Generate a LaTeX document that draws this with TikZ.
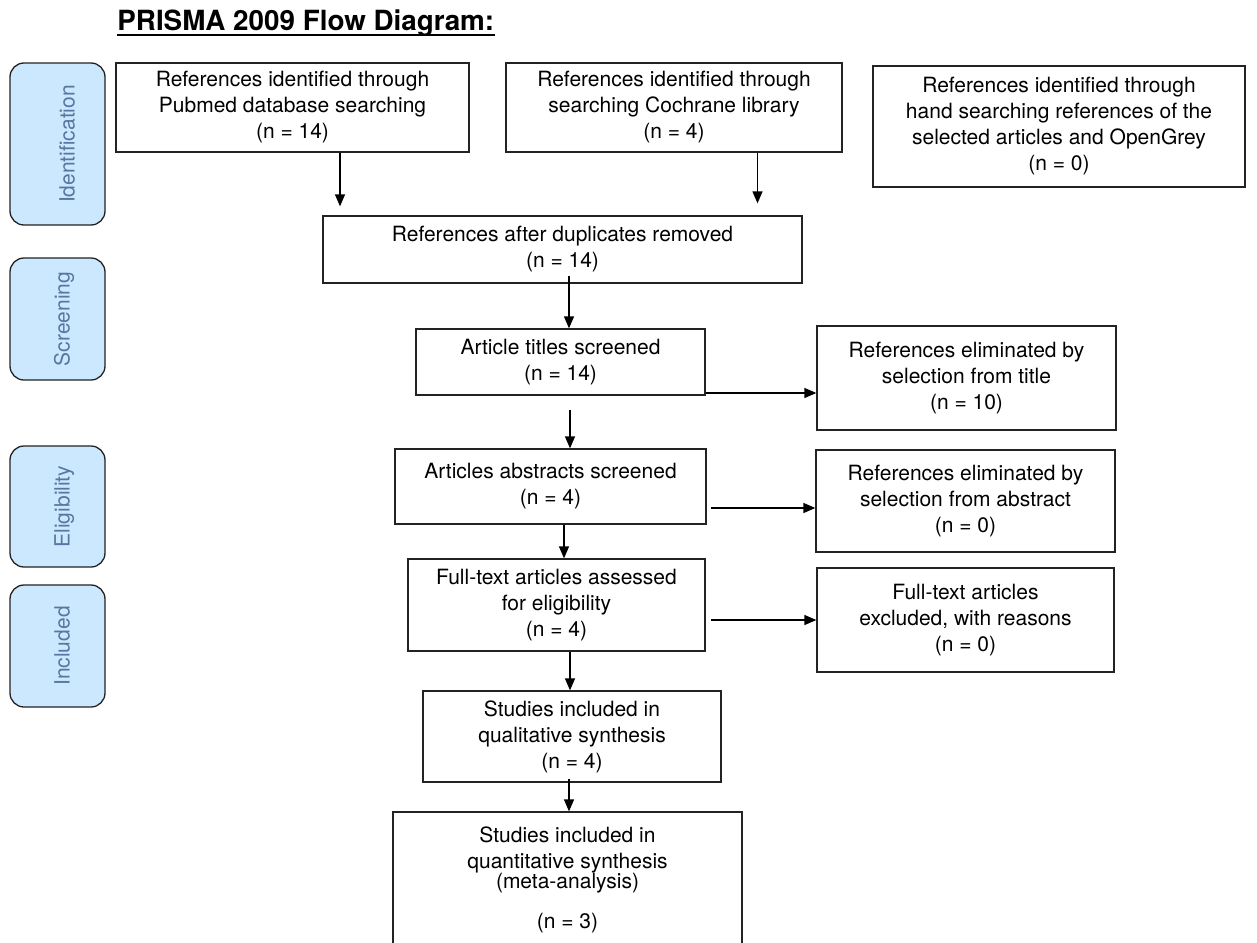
\documentclass[tikz,border=0pt]{standalone}
\usepackage{fontspec}
\setmainfont{TeX Gyre Heros}
\usetikzlibrary{arrows.meta}
\definecolor{phasefill}{RGB}{204,232,255}
\definecolor{phasetext}{RGB}{88,118,160}
\definecolor{lineclr}{RGB}{35,35,35}

\begin{document}
\begin{tikzpicture}[x=0.5pt,y=-0.5pt,
  box/.style={draw=lineclr,line width=0.65pt,align=center,inner sep=0pt,
    font=\fontsize{10.5pt}{13pt}\selectfont},
  phase/.style={draw=lineclr,line width=0.65pt,fill=phasefill,rounded corners=7pt,
    rotate=90,minimum height=47.5pt,text=phasetext,inner sep=0pt,
    text height=12pt,text depth=0pt,
    font=\fontsize{10.5pt}{13pt}\selectfont},
  arr/.style={line width=0.65pt,-{Triangle[width=5pt,length=6pt]}}]
  \useasboundingbox (0,0) rectangle (1257,942);

  % Title
  \node[anchor=base west,inner sep=0pt,font=\fontsize{13.9pt}{16pt}\selectfont\bfseries]
    (title) at (117,30) {PRISMA 2009 Flow Diagram:};
  \draw[line width=1pt] ([yshift=-2.3pt]title.base west) -- ([yshift=-2.3pt]title.base east);

  % Phases
  \node[phase,minimum width=81pt,text height=17pt] (ident) at (57.5,144) {Identification};
  \node[phase,minimum width=61pt] (screen) at (57.5,319) {Screening};
  \node[phase,minimum width=60.5pt] (elig) at (57.5,506.5) {Eligibility};
  \node[phase,minimum width=61pt] (incl) at (57.5,646) {Included};

  % Identification
  \node[box,minimum width=176.5pt,minimum height=44.5pt] (pubmed) at (292.5,107.5)
    {References identified through\\Pubmed database searching\\(n = 14)};
  \node[box,minimum width=168pt,minimum height=44.5pt] (cochrane) at (674,107.5)
    {References identified through\\searching Cochrane library\\(n = 4)};
  \node[box,minimum width=186pt,minimum height=60.5pt] (hand) at (1059,126.5)
    {References identified through\\hand searching references of the\\selected articles and OpenGrey\\(n = 0)};
  \node[box,minimum width=239.5pt,minimum height=33.5pt] (dup) at (562.5,249.5)
    {References after duplicates removed\\(n = 14)};

  % Screening
  \node[box,minimum width=144.5pt,minimum height=33pt] (titles) at (560.5,362)
    {Article titles screened\\(n = 14)};
  \node[box,minimum width=149.5pt,minimum height=52pt] (elimtitle) at (966.5,378)
    {References eliminated by\\selection from title\\(n = 10)};
  \node[box,minimum width=155.5pt,minimum height=37.5pt] (abstracts) at (550.5,486.5)
    {Articles abstracts screened\\(n = 4)};
  \node[box,minimum width=149.5pt,minimum height=51pt] (elimabs) at (965.5,501)
    {References eliminated by\\selection from abstract\\(n = 0)};

  % Eligibility
  \node[box,minimum width=148.5pt,minimum height=46pt] (fulltext) at (556.5,605)
    {Full-text articles assessed\\for eligibility\\(n = 4)};
  \node[box,minimum width=148.5pt,minimum height=52pt] (excluded) at (965.5,620)
    {Full-text articles\\excluded, with reasons\\(n = 0)};

  % Included
  \node[box,minimum width=149pt,minimum height=45.5pt] (qual) at (572,736.5)
    {Studies included in\\qualitative synthesis\\(n = 4)};
  \node[box,minimum width=174.5pt,minimum height=67.5pt] (quant) at (567.5,879.5)
    {Studies included in\\quantitative synthesis\\[-3pt](meta-analysis)\\[7pt](n = 3)};

  % Arrows
  \draw[arr,shorten >=4.5pt] (pubmed.south -| 340,0) -- (dup.north -| 340,0);
  \draw[arr,shorten >=6pt] (cochrane.south -| 757.5,0) -- (dup.north -| 757.5,0);
  \draw[arr,shorten <=-4pt] (dup.south -| 569,0) -- (titles.north -| 569,0);
  \draw[arr] (titles.east |- 0,393) -- (elimtitle.west |- 0,393);
  \draw[arr,shorten <=7pt] (titles.south -| 570,0) -- (abstracts.north -| 570,0);
  \draw[arr,shorten <=2pt] (abstracts.east |- 0,508) -- (elimabs.west |- 0,508);
  \draw[arr] (abstracts.south -| 564,0) -- (fulltext.north -| 564,0);
  \draw[arr,shorten <=2.5pt] (fulltext.east |- 0,620) -- (excluded.west |- 0,620);
  \draw[arr] (fulltext.south -| 570,0) -- (qual.north -| 570,0);
  \draw[arr,shorten <=-2pt] (qual.south -| 569,0) -- (quant.north -| 569,0);
\end{tikzpicture}
\end{document}
